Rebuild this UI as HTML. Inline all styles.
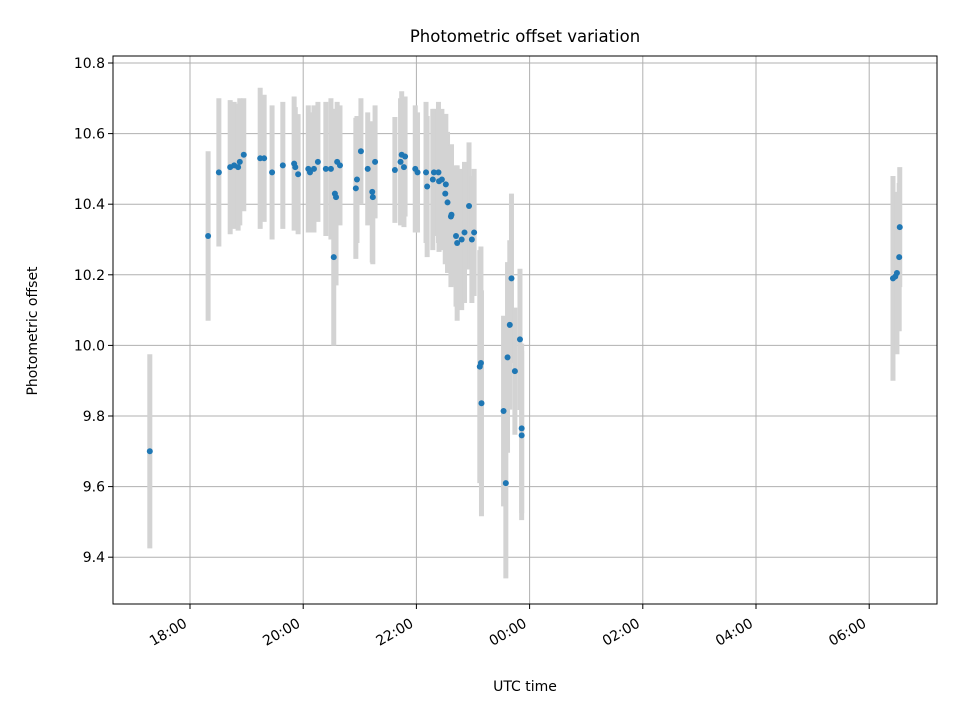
<!DOCTYPE html>
<html><head><meta charset="utf-8"><style>
body{margin:0;background:#fff;font-family:"DejaVu Sans","Liberation Sans",sans-serif}
svg text{font-family:"DejaVu Sans","Liberation Sans",sans-serif}
</style></head><body>
<svg id="chart" width="960" height="720" xmlns="http://www.w3.org/2000/svg">
<rect width="960" height="720" fill="#fff"/>
<g id="grid"></g><g id="bars"></g><g id="pts"></g><g id="axes"></g>
<text x="525" y="42" text-anchor="middle" font-size="16.5">Photometric offset variation</text>
<text x="525" y="691" text-anchor="middle" font-size="14">UTC time</text>
<text transform="translate(37,331) rotate(-90)" text-anchor="middle" font-size="14">Photometric offset</text>
</svg>
<script>
// hours since 18:00 UTC
const times=[-0.71,0.32,0.51,0.71,0.78,0.85,0.88,0.95,1.24,1.31,1.45,1.64,1.84,1.86,1.91,2.09,2.12,2.19,2.26,2.40,2.49,2.56,2.58,2.54,2.60,2.65,2.93,2.95,3.02,3.14,3.22,3.23,3.27,
3.62,3.74,3.72,3.80,3.78,3.98,4.02,4.17,4.19,4.31,4.39,4.29,4.40,4.45,4.52,4.51,4.55,4.62,4.61,4.93,4.70,4.72,4.80,4.85,4.98,5.02,5.14,5.12,5.15,5.68,5.65,5.83,5.61,5.74,5.54,5.86,5.86,5.58,
12.42,12.46,12.49,12.53,12.54];
const offsets=[9.70,10.31,10.49,10.505,10.51,10.505,10.52,10.54,10.53,10.53,10.49,10.51,10.515,10.505,10.485,10.50,10.49,10.50,10.52,10.50,10.50,10.43,10.42,10.25,10.52,10.51,10.445,10.47,10.55,10.50,10.435,10.42,10.52,
10.497,10.54,10.52,10.535,10.505,10.50,10.49,10.49,10.45,10.49,10.49,10.47,10.465,10.47,10.456,10.43,10.405,10.37,10.365,10.395,10.31,10.29,10.30,10.32,10.30,10.32,9.95,9.94,9.836,10.19,10.058,10.017,9.966,9.927,9.814,9.765,9.745,9.61,
10.19,10.195,10.205,10.25,10.335];
const errors=[0.275,0.24,0.21,0.19,0.18,0.18,0.18,0.16,0.2,0.18,0.19,0.18,0.19,0.17,0.17,0.18,0.17,0.18,0.17,0.19,0.2,0.24,0.25,0.25,0.17,0.17,0.2,0.18,0.15,0.16,0.2,0.19,0.16,
0.15,0.18,0.18,0.17,0.17,0.18,0.17,0.2,0.2,0.18,0.2,0.2,0.2,0.2,0.2,0.2,0.2,0.2,0.2,0.18,0.2,0.22,0.2,0.2,0.18,0.18,0.33,0.33,0.32,0.24,0.24,0.2,0.27,0.18,0.27,0.24,0.24,0.27,
0.29,0.2,0.23,0.21,0.17];
const xTickHours=[0,2,4,6,8,10,12];
const xTickLabels=["18:00","20:00","22:00","00:00","02:00","04:00","06:00"];
const yTicks=[9.4,9.6,9.8,10.0,10.2,10.4,10.6,10.8];
const L=113,R=937,T=56,B=604;
const X=h=>190+h*56.6;
const Y=v=>63+(10.8-v)*353;
const NS="http://www.w3.org/2000/svg";
function mk(tag,attrs,parent){const e=document.createElementNS(NS,tag);for(const k in attrs)e.setAttribute(k,attrs[k]);document.getElementById(parent).appendChild(e);return e;}
xTickHours.forEach((h,i)=>{
 const g=mk('line',{x1:X(h),x2:X(h),y1:T,y2:B,stroke:'#b0b0b0','stroke-width':1},'grid');
 
 
 const t=mk('line',{x1:X(h),x2:X(h),y1:B,y2:B+5,stroke:'#000'},'axes');
 
 
 const ax=X(h)-2, ay=B+22;
 const tx=mk('text',{x:ax,y:ay,'text-anchor':'end','font-size':14,transform:`rotate(-30 ${ax} ${ay})`},'axes');
 tx.textContent=xTickLabels[i];
 
 
});
yTicks.forEach(v=>{
 const g=mk('line',{x1:L,x2:R,y1:Y(v),y2:Y(v),stroke:'#b0b0b0','stroke-width':1},'grid');
 
 
 const t=mk('line',{x1:L-5,x2:L,y1:Y(v),y2:Y(v),stroke:'#000'},'axes');
 
 
 const tx=mk('text',{x:L-8,y:Y(v)+5,'text-anchor':'end','font-size':14},'axes');
 tx.textContent=v.toFixed(1);
 
 
});
const fr=mk('rect',{x:L,y:T,width:R-L,height:B-T,fill:'none',stroke:'#000','stroke-width':1},'axes');


times.forEach((h,i)=>{
 const b=mk('line',{x1:X(h),x2:X(h),y1:Y(offsets[i]+errors[i]),y2:Y(offsets[i]-errors[i]),stroke:'#d3d3d3','stroke-width':5},'bars');
 
 
});
times.forEach((h,i)=>{
 const c=mk('circle',{cx:X(h),cy:Y(offsets[i]),r:3,fill:'#1f77b4'},'pts');
 
 
});
</script>
</body></html>
